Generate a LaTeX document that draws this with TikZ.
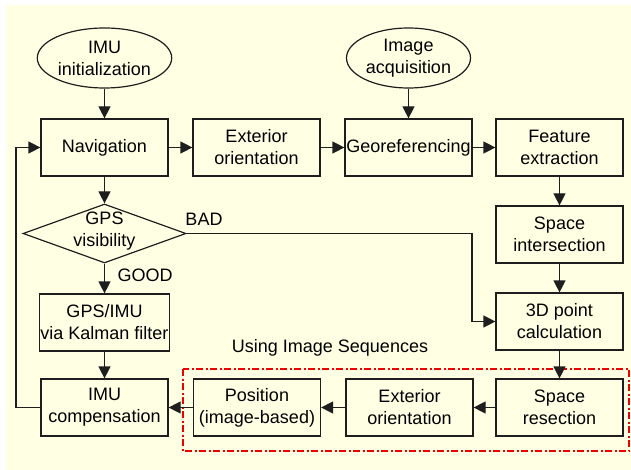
\documentclass[tikz,border=0pt]{standalone}
\usepackage{fontspec}
\setmainfont{Liberation Sans}
\usetikzlibrary{shapes.geometric,arrows.meta}
\definecolor{panel}{RGB}{255,255,228}
\definecolor{ink}{RGB}{30,30,30}
\definecolor{seqred}{RGB}{235,0,0}
\tikzset{
  base/.style={draw=ink, line width=1.2pt, fill=panel, inner sep=1pt, align=center,
    font=\fontsize{18}{22}\selectfont},
  stepbox/.style={base, rectangle, minimum width=127pt, minimum height=57pt},
  startnode/.style={base, ellipse, minimum width=124pt, minimum height=60pt},
  decision/.style={base, diamond, minimum width=163pt, minimum height=59pt, inner sep=0pt},
  lbl/.style={font=\fontsize{18}{22}\selectfont, inner sep=0pt},
  arr/.style={draw=ink, line width=1.2pt, -{Triangle[length=12pt,width=12pt]}},
}
\begin{document}
\begin{tikzpicture}[x=1pt,y=-1pt]
  % canvas and panel
  \fill[white] (0,0) rectangle (631,470);
  \fill[panel] (6,5) rectangle (631,470);
  \useasboundingbox (0,0) rectangle (631,470);

  % image-sequence group frame
  \draw[seqred, line width=1.5pt, dash pattern=on 7pt off 2.5pt on 2pt off 2.5pt]
    (183,369) rectangle (629,451);
  \node[lbl] (seqlabel) at (330,348) {Using Image Sequences};

  % top row
  \node[startnode] (init) at (104.5,58) {IMU\\initialization};
  \node[startnode] (acq) at (408.5,58) {Image\\acquisition};
  \node[stepbox] (nav) at (104.5,147.5) {Navigation};
  \node[stepbox] (ext1) at (256.5,147.5) {Exterior\\orientation};
  \node[stepbox] (geo) at (408.5,147.5) {Georeferencing};
  \node[stepbox] (feat) at (559.5,147.5) {Feature\\extraction};

  % right column
  \node[stepbox] (sint) at (559.5,234.5) {Space\\intersection};
  \node[stepbox] (pt3d) at (559.5,321.5) {3D point\\calculation};
  \node[stepbox] (sres) at (559.5,407.5) {Space\\resection};

  % bottom row
  \node[stepbox] (ext2) at (409.5,407.5) {Exterior\\orientation};
  \node[stepbox] (pos) at (257,407.5) {Position\\(image-based)};
  \node[stepbox] (comp) at (104.5,407.5) {IMU\\compensation};

  % left column
  \node[decision] (gps) at (104.5,233.5) {};
  \node[lbl, align=center] (gpstext) at (104.5,231) {GPS\\visibility};
  \node[stepbox] (gpsimu) at (104.5,322.5) {GPS/IMU\\via Kalman filter};

  % branch labels
  \node[lbl] (bad) at (204,219) {BAD};
  \node[lbl] (good) at (145,275) {GOOD};

  % connectors
  \draw[arr] (init) -- (nav);
  \draw[arr] (acq) -- (geo);
  \draw[arr] (nav) -- (ext1);
  \draw[arr] (ext1) -- (geo);
  \draw[arr] (geo) -- (feat);
  \draw[arr] (feat) -- (sint);
  \draw[arr] (sint) -- (pt3d);
  \draw[arr] (pt3d) -- (sres);
  \draw[arr] (sres) -- (ext2);
  \draw[arr] (ext2) -- (pos);
  \draw[arr] (pos) -- (comp);
  \draw[arr] (nav) -- (gps.north);
  \draw[arr] (gps.south) -- (gpsimu);
  \draw[arr] (gpsimu) -- (comp);

  \coordinate (badbend) at (472,233.5);
  \draw[arr] (gps.east) -- (badbend) |- (pt3d.west);

  \coordinate (loopturn) at (16,407.5);
  \draw[arr] (comp.west) -- (loopturn) |- (nav.west);
\end{tikzpicture}
\end{document}
